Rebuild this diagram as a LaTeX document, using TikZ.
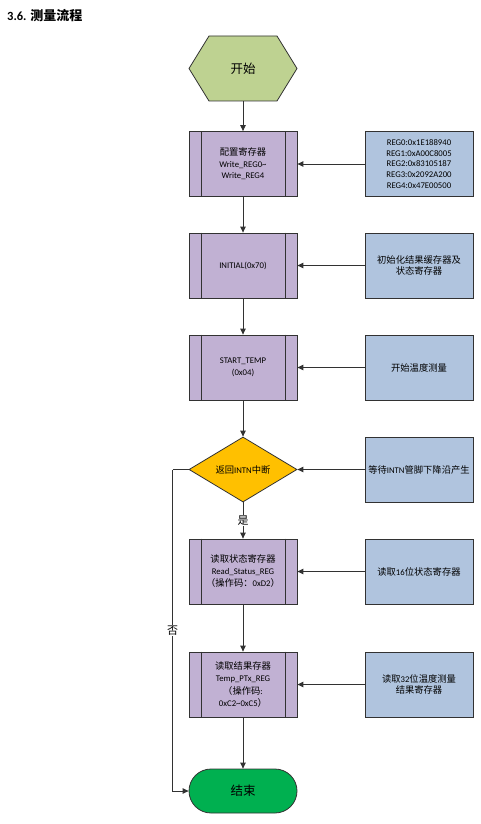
\documentclass[tikz,border=0pt]{standalone}
\usepackage{fontspec}
\setmainfont{Carlito}
\newfontfamily\cjk{Noto Sans CJK SC}
\newcommand{\zh}[1]{{\cjk\fontsize{9.3}{11.5}\selectfont #1}}
\usetikzlibrary{arrows.meta,shapes.geometric}
\definecolor{hexg}{RGB}{190,210,145}
\definecolor{procc}{RGB}{193,177,211}
\definecolor{notec}{RGB}{176,196,222}
\definecolor{decc}{RGB}{255,192,0}
\definecolor{endc}{RGB}{0,176,80}
\definecolor{linec}{RGB}{50,50,50}
\begin{document}
\begin{tikzpicture}[x=1pt,y=-1pt,
  boxbase/.style={draw=linec, line width=0.8pt, minimum width=108pt, minimum height=65pt, inner sep=0pt, align=center, font=\fontsize{8.7}{11.5}\selectfont},
  proc/.style={boxbase, fill=procc},
  note/.style={boxbase, fill=notec},
  conn/.style={draw=linec, line width=0.9pt},
  arr/.style={conn, -{Triangle[length=6pt,width=5.5pt]}},
  lbl/.style={fill=white, inner sep=1pt, font=\cjk\fontsize{11}{12}\selectfont}
]
\useasboundingbox (0,0) rectangle (481,824);

% title
\node[anchor=west, inner sep=0pt, font=\bfseries\fontsize{12.5}{14}\selectfont] (title) at (7,16) {3.6. {\cjk\fontsize{13}{14}\selectfont 测量流程}};

% start hexagon
\filldraw[fill=hexg, draw=linec, line width=0.8pt] (189,68.5) -- (209,36) -- (277,36) -- (297,68.5) -- (277,101) -- (209,101) -- cycle;
\node[minimum width=108pt, minimum height=65pt, inner sep=0pt, font=\cjk\fontsize{12.5}{13}\selectfont] (start) at (243,68.5) {开始};

% process boxes
\node[proc] (p1) at (243,164) {\zh{配置寄存器}\\Write\_REG0\textasciitilde\\Write\_REG4};
\node[proc] (p2) at (243,265.5) {INITIAL(0x70)};
\node[proc] (p3) at (243,367.5) {START\_TEMP\\(0x04)};
\node[diamond, draw=linec, line width=0.8pt, fill=decc, minimum width=108pt, minimum height=65pt, inner sep=0pt, font=\fontsize{8.7}{11.5}\selectfont] (d) at (243,469.5) {\zh{返回}INTN\zh{中断}};
\node[proc, font=\fontsize{8.7}{12}\selectfont] (p5) at (243,571.5) {\zh{读取状态寄存器}\\Read\_Status\_REG\\\zh{（操作码：}0xD2\zh{）}};
\node[proc, font=\fontsize{8.7}{12.3}\selectfont] (p6) at (243,684.5) {\zh{读取结果存器}\\Temp\_PTx\_REG\\\zh{（操作码}:\\0xC2\textasciitilde0xC5\zh{）}};
\node[draw=linec, line width=0.8pt, fill=endc, rounded corners=22pt, minimum width=108pt, minimum height=44pt, inner sep=0pt, font=\cjk\fontsize{12.5}{13}\selectfont] (end) at (243,791) {结束};

\foreach \n in {p1,p2,p3,p5,p6}{
  \draw[conn, line width=0.8pt] ([xshift=13pt]\n.north west) -- ([xshift=13pt]\n.south west);
  \draw[conn, line width=0.8pt] ([xshift=-12pt]\n.north east) -- ([xshift=-12pt]\n.south east);
}

% note boxes
\node[note, font=\fontsize{8.7}{10.7}\selectfont] (n1) at (419,164) {REG0:0x1E188940\\REG1:0xA00C8005\\REG2:0x83105187\\REG3:0x2092A200\\REG4:0x47E00500};
\node[note] (n2) at (419,265.5) {\zh{初始化结果缓存器及}\\\zh{状态寄存器}};
\node[note] (n3) at (419,367.5) {\zh{开始温度测量}};
\node[note] (n4) at (419,469.5) {\zh{等待}INTN\zh{管脚下降沿产生}};
\node[note] (n5) at (419,571.5) {\zh{读取}16\zh{位状态寄存器}};
\node[note] (n6) at (419,684.5) {\zh{读取}32\zh{位温度测量}\\\zh{结果寄存器}};

% main flow
\draw[arr] (start.south) -- (p1.north);
\draw[arr] (p1.south) -- (p2.north);
\draw[arr] (p2.south) -- (p3.north);
\draw[arr] (p3.south) -- (d.north);
\draw[arr] (d.south) -- node[lbl, pos=0.5] (yes) {是} (p5.north);
\draw[arr] (p5.south) -- (p6.north);
\draw[arr] (p6.south) -- (end.north);

% side inputs
\foreach \i/\j in {n1/p1,n2/p2,n3/p3,n4/d,n5/p5,n6/p6}{
  \draw[arr] (\i.west) -- (\j.east);
}

% no branch
\draw[conn] (d.west) -- ++(-16,0) coordinate (nocorner);
\draw[arr] (nocorner) |- node[lbl, pos=0.25] (no) {否} (end.west);
\end{tikzpicture}
\end{document}
